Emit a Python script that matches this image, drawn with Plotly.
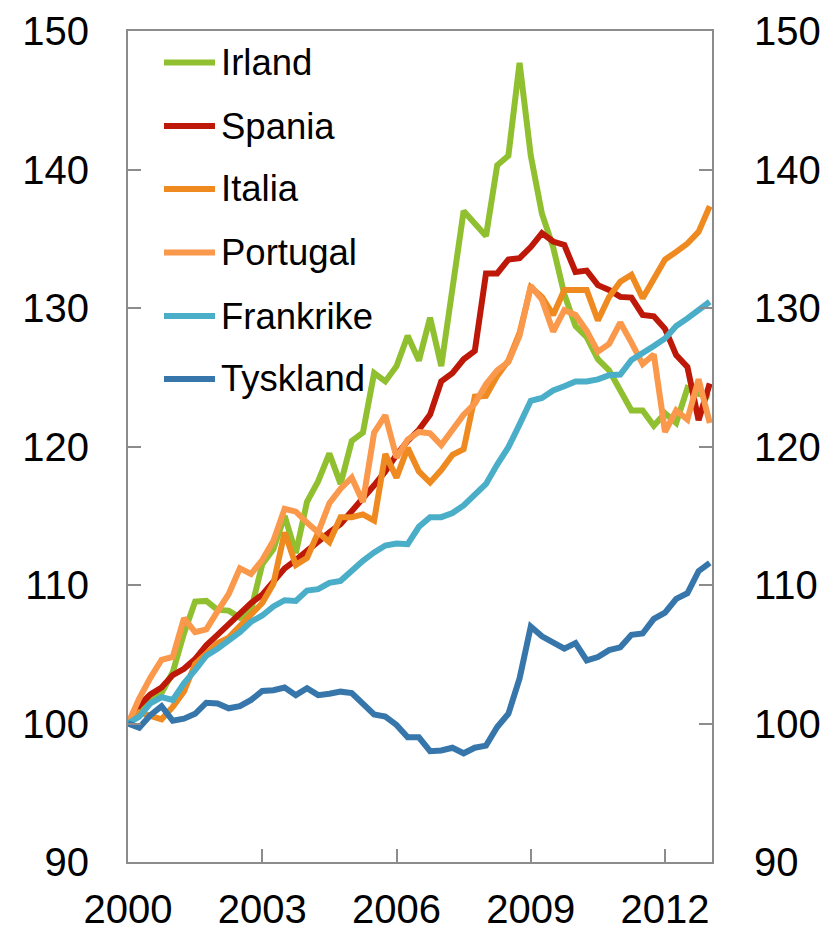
import plotly.graph_objects as go

# Quarterly index, 2000Q1 .. 2013Q1 (decimal years)
quarters = [2000 + q / 4 for q in range(53)]

irland = [100, 100.8, 101.6, 102.2, 103.7, 106.5, 108.8, 108.85, 108.2, 108.15,
          107.65, 108.2, 111.5, 112.6, 115.0, 112.3, 116.0, 117.5, 119.5, 117.3,
          120.4, 121.0, 125.3, 124.7, 125.8, 128.0, 126.2, 129.3, 125.8, 131.4,
          137.0, 136.1, 135.2, 140.3, 141.0, 147.7, 141.0, 136.8, 134.4, 131.0,
          128.7, 127.9, 126.3, 125.5, 124.1, 122.6, 122.6, 121.5, 122.4, 121.7,
          124.2, 123.8, 123.6]
spania = [100, 101.3, 102.1, 102.6, 103.5, 103.95, 104.65, 105.65, 106.4, 107.2,
          108.0, 108.7, 109.3, 110.3, 111.2, 111.8, 112.5, 113.2, 113.8, 114.4,
          115.3, 116.3, 117.2, 118.2, 119.4, 120.4, 121.2, 122.3, 124.7, 125.3,
          126.3, 126.9, 132.5, 132.5, 133.5, 133.6, 134.4, 135.4, 134.8, 134.55,
          132.6, 132.7, 131.65, 131.3, 130.8, 130.75, 129.5, 129.4, 128.5, 126.6,
          125.75, 121.9, 124.55]
italia = [100, 100.8, 100.55, 100.3, 101.2, 102.3, 104.3, 105.1, 105.8, 106.2,
          107.0, 107.8, 108.7, 110.1, 113.8, 111.45, 111.95, 113.8, 113.1, 114.9,
          114.9, 115.1, 114.65, 119.45, 117.75, 119.9, 118.2, 117.4, 118.3, 119.4,
          119.8, 123.6, 123.65, 125.1, 126.2, 128.2, 131.5, 130.8, 129.5, 131.3,
          131.25, 131.3, 129.1, 130.8, 131.9, 132.4, 130.7, 132.2, 133.5, 134.05,
          134.65, 135.5, 137.35]
portugal = [100, 101.8, 103.3, 104.6, 104.8, 107.6, 106.6, 106.8, 108.1, 109.35,
            111.2, 110.8, 111.8, 113.2, 115.5, 115.3, 114.5, 113.8, 115.9, 116.95,
            117.75, 116.0, 121.0, 122.25, 119.2, 120.5, 121.05, 120.95, 120.1, 121.2,
            122.3, 123.1, 124.5, 125.5, 126.1, 128.0, 131.6, 130.6, 128.3, 129.85,
            129.5, 128.35, 126.85, 127.4, 128.95, 127.5, 125.95, 126.65, 121.05, 122.6,
            121.95, 124.85, 121.7]
frankrike = [100, 100.5, 101.45, 101.9, 101.7, 102.9, 103.85, 104.9, 105.4, 106.0,
             106.6, 107.35, 107.8, 108.45, 108.9, 108.85, 109.6, 109.7, 110.15, 110.3,
             111.05, 111.75, 112.35, 112.85, 113.0, 112.95, 114.2, 114.9, 114.9, 115.2,
             115.75, 116.6, 117.3, 118.7, 119.95, 121.6, 123.3, 123.5, 124.05, 124.35,
             124.7, 124.7, 124.85, 125.15, 125.2, 126.25, 126.7, 127.25, 127.8, 128.7,
             129.25, 129.9, 130.45]
tyskland = [100, 99.7, 100.6, 101.25, 100.2, 100.35, 100.7, 101.5, 101.45, 101.1,
            101.25, 101.7, 102.35, 102.4, 102.6, 102.05, 102.55, 102.05, 102.15, 102.3,
            102.2, 101.45, 100.65, 100.5, 99.9, 99.0, 99.0, 98.0, 98.05, 98.25,
            97.85, 98.25, 98.4, 99.75, 100.7, 103.25, 107.0, 106.3, 105.9, 105.4,
            105.8, 104.55, 104.8, 105.3, 105.5, 106.4, 106.5, 107.55, 108.0, 109.0,
            109.4, 111.0, 111.6]

series_names = ["Irland", "Spania", "Italia", "Portugal", "Frankrike", "Tyskland"]
series_values = [irland, spania, italia, portugal, frankrike, tyskland]
series_colors = ["#90C030", "#BE1808", "#EE8A20", "#FA984C", "#4AAEC8", "#3676AA"]

x_tickvals = [2000, 2003, 2006, 2009, 2012]
x_ticktext = ["2000", "2003", "2006", "2009", "2012"]
y_tickvals = [90, 100, 110, 120, 130, 140, 150]

FONT = "Liberation Sans, Arial, sans-serif"
AXIS_COLOR = "#8C8C8C"
LW = 6

# the page body adds an 8px offset; figure is sized to fill the rest of the window
OFF = 8
FW, FH = 836 - OFF, 930 - OFF
PL, PR, PT, PB = 128 - OFF, 712 - OFF, 31 - OFF, 862 - OFF
W, H = PR - PL, PB - PT

fig = go.Figure()
for name, vals, col in zip(series_names, series_values, series_colors):
    fig.add_trace(go.Scatter(x=quarters, y=vals, name=name, mode="lines",
                             line=dict(color=col, width=LW), showlegend=False))

# invisible trace to anchor the right-hand axis
fig.add_trace(go.Scatter(x=quarters, y=tyskland, yaxis="y2", mode="lines",
                         line=dict(width=0), opacity=0, showlegend=False,
                         hoverinfo="skip"))

# manual legend (long line samples like the original); page-pixel rows
legend_y = [62.5, 126, 189, 252.5, 316, 379]
for name, col, py in zip(series_names, series_colors, legend_y):
    yp = (PB - (py - OFF)) / H
    fig.add_shape(type="line", xref="paper", yref="paper",
                  x0=(164 - OFF - PL) / W, x1=(215 - OFF - PL) / W, y0=yp, y1=yp,
                  line=dict(color=col, width=LW))
    fig.add_annotation(xref="paper", yref="paper", x=(219 - OFF - PL) / W, y=yp,
                       text=name, showarrow=False, xanchor="left", yanchor="middle",
                       font=dict(family=FONT, size=36.5, color="black"))

fig.update_layout(
    width=FW, height=FH,
    margin=dict(l=PL, r=FW - PR, t=PT, b=FH - PB, autoexpand=False),
    paper_bgcolor="white", plot_bgcolor="white",
    font=dict(family=FONT, size=40, color="black"),
    showlegend=False,
    xaxis=dict(range=[2000, 2013.05], tickvals=x_tickvals, ticktext=x_ticktext,
               ticks="inside", ticklen=13, tickwidth=2, tickcolor=AXIS_COLOR,
               showline=True, linecolor=AXIS_COLOR, linewidth=2, mirror=True,
               showgrid=False, zeroline=False, ticklabelstandoff=11,
               automargin=False, tickfont=dict(family=FONT, size=40)),
    yaxis=dict(range=[90, 150], tickvals=y_tickvals,
               ticks="inside", ticklen=13, tickwidth=2, tickcolor=AXIS_COLOR,
               showline=True, linecolor=AXIS_COLOR, linewidth=2,
               showgrid=False, zeroline=False, ticklabelstandoff=29,
               automargin=False, tickfont=dict(family=FONT, size=40)),
    yaxis2=dict(range=[90, 150], tickvals=y_tickvals, overlaying="y", side="right",
                ticks="inside", ticklen=13, tickwidth=2, tickcolor=AXIS_COLOR,
                showline=True, linecolor=AXIS_COLOR, linewidth=2,
                showgrid=False, zeroline=False, ticklabelstandoff=32,
                automargin=False, tickfont=dict(family=FONT, size=40)),
)

fig.write_html("out.html")
